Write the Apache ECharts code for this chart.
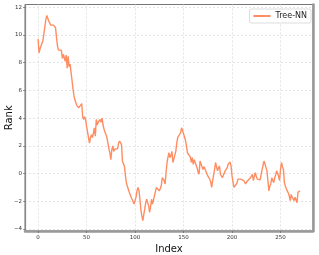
<!DOCTYPE html>
<html><head><meta charset="utf-8">
<script src="https://cdn.jsdelivr.net/npm/echarts@6/dist/echarts.min.js"></script>
<style>html,body{margin:0;padding:0;background:#fff}#c{width:319px;height:255px}</style>
</head><body><div id="c"></div>
<script>
var seriesName = "Tree-NN";
var xTicks = [0, 50, 100, 150, 200, 250];
var yTicks = [-4, -2, 0, 2, 4, 6, 8, 10, 12];
var rankValues = [
9.7,8.7,9.0,9.2,9.15,9.6,10.1,10.6,11.1,11.4,
11.45,11.0,10.95,10.7,10.6,10.75,10.7,10.6,10.5,9.8,
9.2,8.9,9.0,8.8,8.9,8.3,8.6,8.5,8.1,8.55,
7.6,8.45,7.7,7.9,7.3,6.7,6.1,5.6,5.3,5.1,
4.9,4.8,4.75,4.8,4.75,5.05,4.1,3.9,4.1,3.9,
3.4,3.0,2.6,2.2,2.6,2.8,2.6,2.9,3.3,2.7,
3.9,3.5,3.7,3.6,3.9,3.7,4.0,3.5,3.2,3.0,
2.95,2.6,2.2,1.8,1.5,1.0,1.7,2.0,1.6,1.75,
1.7,1.75,1.8,2.2,2.35,2.3,2.1,0.9,0.7,0.55,
-0.1,-0.65,-0.9,-0.8,-1.35,-1.4,-1.7,-1.6,-1.75,-2.2,
-2.1,-1.7,-1.25,-1.0,-1.2,-1.85,-2.6,-3.05,-3.4,-3.3,
-2.55,-2.1,-1.85,-2.1,-2.3,-2.8,-2.4,-1.85,-2.2,-2.1,
-1.6,-1.3,-1.0,-1.1,-1.05,-1.25,-1.35,-0.9,-0.3,-0.4,
-0.5,-0.75,0.1,0.8,1.2,1.5,1.15,1.3,1.6,0.8,
0.85,0.8,1.6,2.2,2.6,2.5,2.6,2.95,3.3,3.1,
3.05,3.05,2.4,2.0,1.5,1.6,1.4,1.2,0.8,1.15,
0.67,1.0,0.9,0.6,0.4,0.1,-0.05,0.9,0.8,0.9,
0.3,0.5,0.35,0.4,0.3,-0.17,-0.1,-0.4,-0.6,-1.0,
-0.5,-0.1,0.3,0.8,0.5,0.2,0.4,0.55,-0.05,-0.1,
-0.3,-0.35,-0.4,0.2,0.3,0.43,0.67,0.6,0.83,0.55,
-0.17,-0.6,-1.0,-1.05,-1.1,-0.7,-0.4,-0.3,-0.35,-0.4,
-0.3,-0.35,-0.5,-0.6,-0.75,-0.6,-0.5,-0.45,-0.4,-0.3,
-0.35,-0.05,-0.5,-0.2,0.07,-0.2,-0.4,-0.3,-0.35,-0.45,
-0.5,0.3,0.6,0.9,0.7,0.43,0.2,0.07,-1.25,-0.9,
-0.75,-0.3,-0.5,-0.65,-0.3,-0.1,0.2,0.1,-0.2,-0.5,
0.3,0.8,0.5,0.3,-0.65,-0.9,-1.1,-1.25,-1.4,-1.6,
-1.95,-1.5,-1.7,-1.6,-1.95,-1.7,-1.8,-2.1,-1.35,-1.3,
-1.25
];
var pts = rankValues.map(function(v, i){ return [i, v]; });
var tickFont = {fontFamily: 'DejaVu Sans', fontSize: 5.5, color: '#333'};
var chart = echarts.init(document.getElementById('c'), null, {renderer: 'canvas'});
chart.setOption({
  animation: false,
  backgroundColor: '#fff',
  grid: {left: 25, right: 6, top: 4.5, bottom: 24, containLabel: false, outerBoundsMode: 'none',
         show: true, borderColor: '#777', borderWidth: 1},
  legend: {
    data: [seriesName], right: 8, top: 9, orient: 'horizontal',
    itemWidth: 17, itemHeight: 2, icon: 'rect', itemGap: 4,
    padding: [3, 4, 3, 4], borderColor: '#ddd', borderWidth: 1, borderRadius: 2,
    backgroundColor: '#fff',
    textStyle: {fontFamily: 'DejaVu Sans', fontSize: 8, color: '#222'}
  },
  xAxis: [{
    type: 'value', min: -13.5, max: 283.5, position: 'bottom',
    name: 'Index', nameLocation: 'middle', nameGap: 13, nameMoveOverlap: false,
    nameTextStyle: {fontFamily: 'DejaVu Sans', fontSize: 10, color: '#111'},
    axisLine: {show: true, onZero: false, lineStyle: {color: '#999', width: 2.5}},
    axisTick: {show: true, length: 2, customValues: xTicks, lineStyle: {color: '#555', width: 0.6}},
    axisLabel: {customValues: xTicks, margin: 4, ...tickFont, formatter: function(v){ return String(v).replace('-', '\u2212'); }},
    splitLine: {show: true, lineStyle: {color: '#ddd', type: [2, 2], width: 0.8}}
  }],
  yAxis: [{
    type: 'value', min: -4.14, max: 12.19, position: 'left',
    name: 'Rank', nameLocation: 'middle', nameGap: 11, nameRotate: 90, nameMoveOverlap: false,
    nameTextStyle: {fontFamily: 'DejaVu Sans', fontSize: 10, color: '#111'},
    axisLine: {show: true, onZero: false, lineStyle: {color: '#888', width: 1.2}},
    axisTick: {show: true, length: 2, customValues: yTicks, lineStyle: {color: '#555', width: 0.6}},
    axisLabel: {customValues: yTicks, margin: 3, ...tickFont, formatter: function(v){ return String(v).replace('-', '\u2212'); }},
    splitLine: {show: true, lineStyle: {color: '#ddd', type: [2, 2], width: 0.8}}
  }, {
    type: 'value', min: -4.14, max: 12.19, position: 'right',
    axisLine: {show: true, onZero: false, lineStyle: {color: '#999', width: 2.5}},
    axisTick: {show: false}, axisLabel: {show: false}, splitLine: {show: false}
  }],
  series: [{
    name: seriesName, type: 'line', data: pts, showSymbol: false,
    lineStyle: {color: '#ff8d62', width: 1.4}, itemStyle: {color: '#ff8d62'}
  }]
});
</script></body></html>
